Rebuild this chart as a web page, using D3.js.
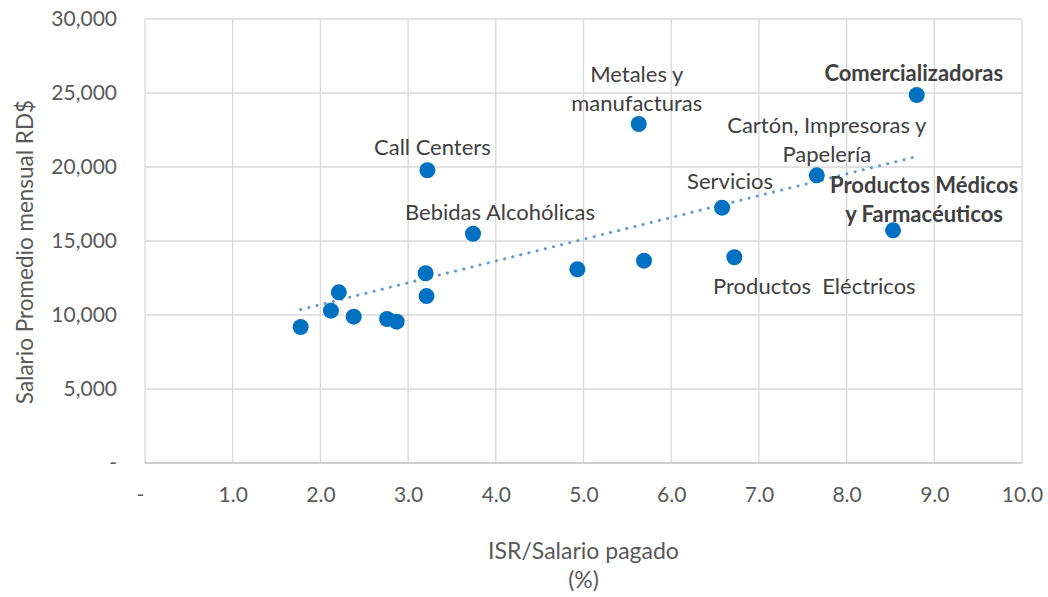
<!DOCTYPE html>
<html>
<head>
<meta charset="utf-8">
<script src="https://cdn.jsdelivr.net/npm/d3@7"></script>
<style>
  body { margin: 0; background: #fff; }
  text { font-family: Lato, "Open Sans", sans-serif; }
</style>
</head>
<body>
<div id="chart"></div>
<script>
// ISR / salario pagado (%) vs salario promedio mensual (RD$)
const isrRatio = [1.775, 2.12, 2.21, 2.38, 2.76, 2.87, 3.20, 3.21, 3.22, 3.74, 4.93, 5.63, 5.69, 6.58, 6.72, 7.66, 8.53, 8.80];
const salary   = [9190, 10290, 11530, 9885, 9730, 9550, 12820, 11280, 19780, 15490, 13090, 22905, 13670, 17250, 13900, 19440, 15720, 24865];
const sectorLabels = ["", "", "", "", "", "", "", "", "Call Centers", "Bebidas Alcohólicas", "",
  "Metales y\nmanufacturas", "", "Servicios", "Productos  Eléctricos",
  "Cartón, Impresoras y\nPapelería", "Productos Médicos\ny Farmacéuticos", "Comercializadoras"];
const boldLabels = ["Productos Médicos\ny Farmacéuticos", "Comercializadoras"];

const xTicks = [0, 1, 2, 3, 4, 5, 6, 7, 8, 9, 10];
const yTicks = [0, 5000, 10000, 15000, 20000, 25000, 30000];

// label placement relative to the point (px): [dx, dy of first line]
const labelOffset = {
  "Call Centers": [5, -15],
  "Bebidas Alcohólicas": [27, -14],
  "Metales y\nmanufacturas": [-2, -42],
  "Servicios": [8, -19],
  "Productos  Eléctricos": [80, 37],
  "Cartón, Impresoras y\nPapelería": [10, -42],
  "Productos Médicos\ny Farmacéuticos": [31, -37],
  "Comercializadoras": [-3, -14]
};

const W = 1048, H = 597;
const margin = {top: 19, right: 26, bottom: 134, left: 145};
const width = W - margin.left - margin.right;
const height = H - margin.top - margin.bottom;
const tickSize = 21, labelSize = 22;

const svg = d3.select("#chart").append("svg")
  .attr("width", W)
  .attr("height", H);

const g = svg.append("g")
  .attr("transform", "translate(" + margin.left + "," + margin.top + ")");

const x = d3.scaleLinear().domain([0, 10]).range([0, width]);
const y = d3.scaleLinear().domain([0, 30000]).range([height, 0]);

const data = isrRatio.map((d, i) => ({x: d, y: salary[i], label: sectorLabels[i]}));

// grid
g.append("g").attr("class", "grid")
  .selectAll("line.v").data(xTicks).enter().append("line")
  .attr("x1", d => x(d)).attr("x2", d => x(d))
  .attr("y1", 0).attr("y2", height)
  .style("stroke", "#d9d9d9").style("stroke-width", 1.3);

g.append("g").attr("class", "grid")
  .selectAll("line.h").data(yTicks.filter(d => d > 0)).enter().append("line")
  .attr("x1", 0).attr("x2", width)
  .attr("y1", d => y(d)).attr("y2", d => y(d))
  .style("stroke", "#d9d9d9").style("stroke-width", 1.3);

g.append("line")
  .attr("x1", 0).attr("x2", width)
  .attr("y1", height).attr("y2", height)
  .style("stroke", "#bfbfbf").style("stroke-width", 1.3);

// axes
const fmtY = d => d === 0 ? "-" : d3.format(",")(d);
const fmtX = d => d === 0 ? "-" : d3.format(".1f")(d);

const yAxis = d3.axisLeft(y).tickValues(yTicks).tickFormat(fmtY).tickSize(0).tickPadding(28);
const xAxis = d3.axisBottom(x).tickValues(xTicks).tickFormat(fmtX).tickSize(0).tickPadding(24);

g.append("g").attr("class", "y axis").call(yAxis)
  .call(a => a.select(".domain").remove())
  .selectAll("text")
  .style("font-size", tickSize + "px").style("fill", "#595959")
  .style("font-family", "Lato, sans-serif");

g.append("g").attr("class", "x axis")
  .attr("transform", "translate(0," + height + ")")
  .call(xAxis)
  .call(a => a.select(".domain").remove())
  .selectAll("text")
  .style("font-size", tickSize + "px").style("fill", "#595959")
  .style("font-family", "Lato, sans-serif")
  .attr("dx", d => d === 0 ? -5 : 0);

// trendline (least squares)
const mx = d3.mean(data, d => d.x), my = d3.mean(data, d => d.y);
const slope = d3.sum(data, d => (d.x - mx) * (d.y - my)) / d3.sum(data, d => (d.x - mx) ** 2);
const icpt = my - slope * mx;
const xr = d3.extent(data, d => d.x);

g.append("line")
  .attr("x1", x(xr[0])).attr("y1", y(icpt + slope * xr[0]))
  .attr("x2", x(xr[1]) - 4).attr("y2", y(icpt + slope * (xr[1] - 4 / x(1))))
  .style("stroke", "#5b9bd5")
  .style("stroke-width", 3)
  .style("stroke-linecap", "round")
  .style("stroke-dasharray", "0.1 8.3");

// points
g.append("g").attr("class", "points")
  .selectAll("circle").data(data).enter().append("circle")
  .attr("cx", d => x(d.x))
  .attr("cy", d => y(d.y))
  .attr("r", 8)
  .style("fill", "#0070c0");

// data labels
const labels = g.append("g").attr("class", "labels")
  .selectAll("text").data(data.filter(d => d.label)).enter().append("text")
  .attr("text-anchor", "middle")
  .style("font-size", labelSize + "px")
  .style("fill", "#404040")
  .style("font-weight", d => boldLabels.includes(d.label) ? "bold" : "normal")
  .attr("transform", d => {
    const o = labelOffset[d.label];
    return "translate(" + (x(d.x) + o[0]) + "," + (y(d.y) + o[1]) + ")";
  });

labels.selectAll("tspan")
  .data(d => d.label.split("\n"))
  .enter().append("tspan")
  .attr("x", 0)
  .attr("y", (d, i) => i * 28.5)
  .style("white-space", "pre")
  .text(d => d);

// axis titles
svg.append("text")
  .attr("transform", "translate(33," + 252 + ") rotate(-90)")
  .attr("text-anchor", "middle")
  .style("font-size", "22.5px").style("fill", "#595959")
  .text("Salario Promedio mensual RD$");

const xt = svg.append("text")
  .attr("text-anchor", "middle")
  .style("font-size", "23px").style("fill", "#595959");
xt.append("tspan").attr("x", margin.left + width / 2).attr("y", 559).text("ISR/Salario pagado");
xt.append("tspan").attr("x", margin.left + width / 2).attr("y", 588).text("(%)");
</script>
</body>
</html>
